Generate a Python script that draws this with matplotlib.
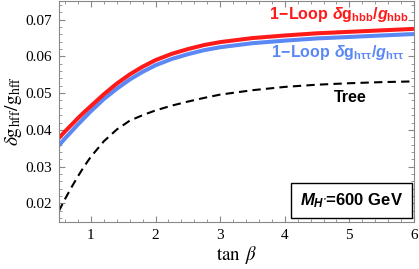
import matplotlib
matplotlib.use('Agg')
import matplotlib.pyplot as plt
import matplotlib.patches as mpatches
from matplotlib.ticker import MultipleLocator

plt.rcParams['mathtext.fontset'] = 'custom'
plt.rcParams['mathtext.rm'] = 'Liberation Sans:bold'
plt.rcParams['mathtext.bf'] = 'Liberation Sans:bold'
plt.rcParams['mathtext.it'] = 'Liberation Sans:bold:italic'
plt.rcParams['mathtext.sf'] = 'Liberation Sans:bold'

tanb = [0.5, 0.6, 0.7, 0.8, 0.9, 1.0, 1.2, 1.4, 1.6, 1.8, 2.0, 2.25, 2.5, 2.75,
        3.0, 3.5, 4.0, 4.5, 5.0, 5.5, 6.0]
loop_hbb = [0.0377, 0.0396, 0.0414, 0.0432, 0.0449, 0.0465, 0.0497, 0.0526, 0.0551,
            0.0572, 0.0590, 0.0607, 0.0620, 0.0631, 0.0639, 0.0650, 0.0657, 0.0663,
            0.0667, 0.0671, 0.0675]
loop_htautau = [0.0357, 0.0377, 0.0396, 0.0415, 0.0433, 0.0451, 0.0484, 0.0512, 0.0537,
                0.0558, 0.0576, 0.0593, 0.0606, 0.0617, 0.0625, 0.0636, 0.0643, 0.0649,
                0.0653, 0.0657, 0.0661]
tree = [0.0178, 0.0212, 0.0244, 0.0274, 0.0302, 0.0327, 0.0369, 0.0401, 0.0425,
        0.0440, 0.0453, 0.0466, 0.0477, 0.0487, 0.0496, 0.0508, 0.0517, 0.0523,
        0.0527, 0.0530, 0.0532]

red = '#ff1a1a'
blue = '#5b88f5'

fig = plt.figure(figsize=(4.19, 2.69), dpi=100)
ax = fig.add_axes([0.140, 0.176, 0.848, 0.819])

ax.plot(tanb, tree, color='black', lw=1.5, dashes=(4, 2.5))
ax.plot(tanb, loop_htautau, color=blue, lw=2.9, solid_capstyle='butt')
ax.plot(tanb, loop_hbb, color=red, lw=2.9, solid_capstyle='butt')

ax.set_xlim(0.5, 6)
ax.set_ylim(0.015, 0.075)
ax.xaxis.set_major_locator(MultipleLocator(1))
ax.xaxis.set_minor_locator(MultipleLocator(0.2))
ax.yaxis.set_major_locator(MultipleLocator(0.01))
ax.yaxis.set_minor_locator(MultipleLocator(0.002))
ax.tick_params(which='both', direction='in', top=True, right=True, color='#888888')
ax.tick_params(which='major', length=4, width=0.8, labelsize=11, pad=5)
ax.tick_params(which='minor', length=2, width=0.6)
for s in ax.spines.values():
    s.set_color('#888888')
    s.set_linewidth(0.8)
for lab in ax.get_xticklabels() + ax.get_yticklabels():
    lab.set_fontfamily('Liberation Serif')

ax.set_xlabel(r'$\tan\ \beta$', fontsize=13.5, math_fontfamily='stix', labelpad=2)
ax.set_ylabel(r'$\delta \mathrm{g}_{\mathrm{hff}}/\mathrm{g}_{\mathrm{hff}}$', fontsize=14,
              math_fontfamily='stix', labelpad=1)

ax.text(5.92, 0.0713, r'$\mathrm{1\!-\!Loop}\ \delta \mathrm{g}_{\mathrm{hbb}}/g_{\mathrm{hbb}}$',
        color=red, fontsize=11.5, ha='right', va='center')
ax.text(5.845, 0.0612, r'$\mathrm{1\!-\!Loop}\ \delta \mathrm{g}_{\mathrm{h\tau\tau}}/g_{\mathrm{h\tau\tau}}$',
        color=blue, fontsize=11.5, ha='right', va='center')
ax.text(5.01, 0.0489, 'Tree', color='black', fontsize=11.5, fontweight='bold',
        family='Liberation Sans', ha='center', va='center')

ax.add_patch(mpatches.Rectangle((0.654, 0.017), 0.341, 0.159, transform=ax.transAxes,
                                facecolor='white', edgecolor='black', lw=1.0, zorder=5))
ax.text(0.824, 0.096, r"$M_{H'}$=600 GeV", transform=ax.transAxes,
        fontsize=12, fontweight='bold', family='Liberation Sans',
        ha='center', va='center', zorder=6)

fig.savefig('out.png', dpi=100)
